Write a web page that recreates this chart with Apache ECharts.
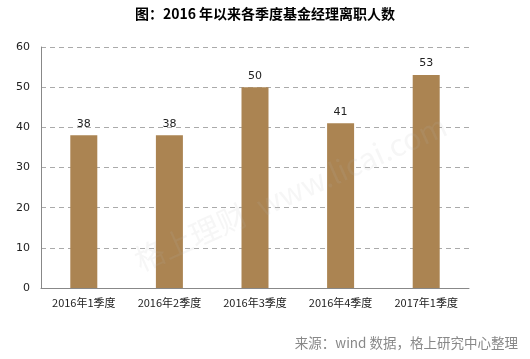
<!DOCTYPE html>
<html><head><meta charset="utf-8">
<script src="https://cdn.jsdelivr.net/npm/echarts@6/dist/echarts.min.js"></script>
<style>html,body{margin:0;padding:0;background:#fff}#c{width:530px;height:359px}</style>
</head><body><div id="c"></div>
<script>
const categories = ['2016年1季度','2016年2季度','2016年3季度','2016年4季度','2017年1季度'];
const departures = [38, 38, 50, 41, 53];
const yTicks = [0, 10, 20, 30, 40, 50, 60];

const chart = echarts.init(document.getElementById('c'));
chart.setOption({
  animation: false,
  backgroundColor: '#fff',
  title: {
    text: '图：2016 年以来各季度基金经理离职人数',
    left: 'center', top: 2,
    textStyle: {fontSize: 14, fontWeight: 'bold', color: '#000', fontFamily: 'Noto Sans CJK SC'}
  },
  grid: {left: 41, right: 61, top: 47, bottom: 71},
  xAxis: {
    type: 'category', data: categories,
    axisLine: {lineStyle: {color: '#888'}},
    axisTick: {show: false},
    axisLabel: {color: '#222', fontSize: 11, margin: 9, fontFamily: 'Noto Sans CJK SC'}
  },
  yAxis: {
    type: 'value', min: yTicks[0], max: yTicks[yTicks.length-1], interval: 10,
    axisLine: {show: true, lineStyle: {color: '#888'}},
    axisTick: {show: false},
    axisLabel: {color: '#222', fontSize: 11, margin: 11, fontFamily: 'DejaVu Sans'},
    splitLine: {lineStyle: {color: '#aaa', type: [5, 4]}}
  },
  series: [{
    type: 'bar', data: departures, barWidth: 27,
    itemStyle: {color: '#AB8452'},
    label: {show: true, position: 'top', color: '#222', fontSize: 11, distance: 6, fontFamily: 'DejaVu Sans'}
  }],
  graphic: [
    {type: 'text', left: 130, top: 110, rotation: 0.42, z: 100,
     style: {text: '格上理财  www.licai.com', fontSize: 30, fill: 'rgba(180,180,180,0.12)', fontFamily: 'Noto Sans CJK SC'}},
    {type: 'text', right: 12, top: 336,
     style: {text: '来源：wind 数据，格上研究中心整理', fontSize: 13.5, fill: '#888', fontFamily: 'Noto Sans CJK SC'}}
  ]
});
</script></body></html>
